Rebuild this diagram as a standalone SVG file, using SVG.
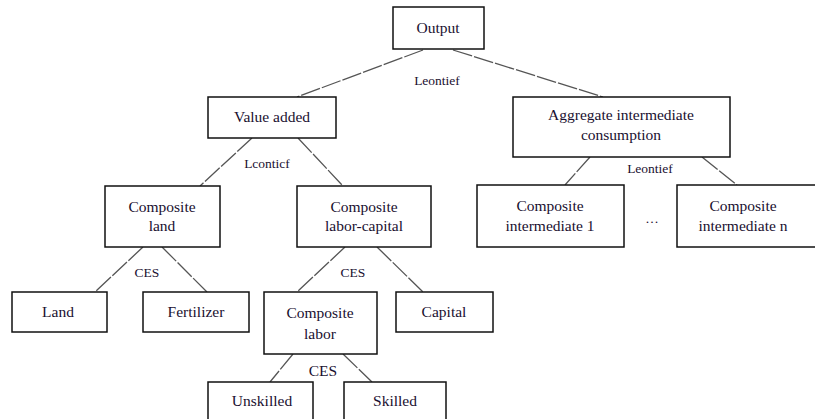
<svg xmlns="http://www.w3.org/2000/svg" width="815" height="419" viewBox="0 0 815 419">
<style>
.box{fill:#fff;stroke:#111;stroke-width:1.5}
.t{font-family:"Liberation Serif","Times New Roman",serif;font-size:15.5px;fill:#1a1030;text-anchor:middle}
.lbl{font-family:"Liberation Serif","Times New Roman",serif;font-size:13.5px;fill:#1a1030;text-anchor:middle}
.c{stroke:#555;stroke-width:1.3;fill:none;stroke-dasharray:20 2}
</style>
<rect width="815" height="419" fill="#fff"/>
<g id="connectors">
<line class="c" x1="423" y1="50" x2="297" y2="97"/>
<line class="c" x1="453" y1="50" x2="603" y2="97"/>
<line class="c" x1="252" y1="138" x2="200" y2="186"/>
<line class="c" x1="298" y1="138" x2="343" y2="186"/>
<line class="c" x1="590" y1="157" x2="565" y2="185"/>
<line class="c" x1="702" y1="157" x2="737" y2="185"/>
<line class="c" x1="143" y1="247" x2="95" y2="292"/>
<line class="c" x1="162" y1="247" x2="207" y2="292"/>
<line class="c" x1="345" y1="247" x2="297" y2="292"/>
<line class="c" x1="377" y1="247" x2="423" y2="292"/>
<line class="c" x1="293" y1="354" x2="270" y2="382"/>
<line class="c" x1="343" y1="354" x2="372" y2="382"/>
<text class="lbl" x="437" y="85">Leontief</text>
<text class="lbl" x="267" y="168">Lconticf</text>
<text class="lbl" x="650" y="173">Leontief</text>
<text class="lbl" x="147" y="277">CES</text>
<text class="lbl" x="353" y="277">CES</text>
<text class="t" x="323" y="376">CES</text>
<text class="lbl" x="652" y="223">…</text>
</g>
<g id="output"><rect class="box" x="393" y="7" width="91" height="42"/><text class="t" x="438" y="33">Output</text></g>
<g id="value-added"><rect class="box" x="208" y="97" width="128" height="41"/><text class="t" x="272" y="122">Value added</text></g>
<g id="aggregate"><rect class="box" x="513" y="97" width="217" height="60"/><text class="t" x="621" y="120">Aggregate intermediate</text><text class="t" x="621" y="140">consumption</text></g>
<g id="composite-land"><rect class="box" x="105" y="186" width="115" height="61"/><text class="t" x="162" y="212">Composite</text><text class="t" x="162" y="231">land</text></g>
<g id="composite-labor-capital"><rect class="box" x="297" y="186" width="134" height="61"/><text class="t" x="364" y="212">Composite</text><text class="t" x="364" y="231">labor-capital</text></g>
<g id="composite-intermediate-1"><rect class="box" x="477" y="185" width="147" height="62"/><text class="t" x="550" y="211">Composite</text><text class="t" x="550" y="231">intermediate 1</text></g>
<g id="composite-intermediate-n"><rect class="box" x="677" y="185" width="145" height="62"/><text class="t" x="743" y="211">Composite</text><text class="t" x="743" y="231">intermediate n</text></g>
<g id="land"><rect class="box" x="12" y="292" width="95" height="40"/><text class="t" x="58" y="317">Land</text></g>
<g id="fertilizer"><rect class="box" x="143" y="292" width="106" height="40"/><text class="t" x="196" y="317">Fertilizer</text></g>
<g id="composite-labor"><rect class="box" x="264" y="292" width="113" height="62"/><text class="t" x="320" y="318">Composite</text><text class="t" x="320" y="339">labor</text></g>
<g id="capital"><rect class="box" x="396" y="292" width="97" height="40"/><text class="t" x="444" y="317">Capital</text></g>
<g id="unskilled"><rect class="box" x="208" y="382" width="105" height="40"/><text class="t" x="262" y="406">Unskilled</text></g>
<g id="skilled"><rect class="box" x="344" y="382" width="102" height="40"/><text class="t" x="395" y="406">Skilled</text></g>
</svg>
